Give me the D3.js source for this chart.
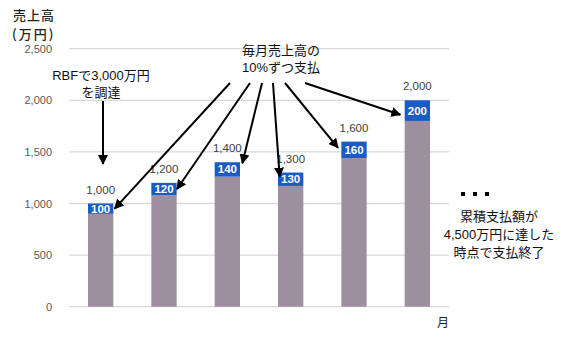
<!DOCTYPE html>
<html>
<head>
<meta charset="utf-8">
<script src="https://cdn.jsdelivr.net/npm/d3@7"></script>
<style>
  body { margin: 0; background: #fff; }
  text { font-family: "Liberation Sans", Arial, "Noto Sans CJK JP", sans-serif; }
  .jp { font-family: "Noto Sans CJK JP", sans-serif; }
</style>
</head>
<body>
<svg id="draw" width="564" height="352"></svg>
<script>
// chart data
let months = ["1", "2", "3", "4", "5", "6"];
let sales = [1000, 1200, 1400, 1300, 1600, 2000];
let payments = [100, 120, 140, 130, 160, 200];
let yTicks = [0, 500, 1000, 1500, 2000, 2500];

// arrow tips, given as offset from bar centre (px) and value on y scale
let arrowTips = [
    { dx: 14, v: 950 },
    { dx: 13, v: 1140 },
    { dx: 15, v: 1390 },
    { dx: -11, v: 1260 },
    { dx: -16, v: 1540 },
    { dx: -17, v: 1860 }
];
let arrowStartX = [230, 250, 262, 273, 285, 305];

let svg = d3.select("#draw");

let x = d3.scaleBand().domain(months).range([69, 449]).paddingInner(0.6).paddingOuter(0.3);
let y = d3.scaleLinear().domain([0, 2500]).range([306.7, 48.7]);

// grid
svg.append("g")
    .selectAll("line")
    .data(yTicks)
    .enter()
    .append("line")
    .attr("x1", 69).attr("x2", 449)
    .attr("y1", d => y(d)).attr("y2", d => y(d))
    .attr("stroke", "#d9d9d9")
    .attr("stroke-width", 1.3);

// y axis labels
svg.append("g")
    .attr("transform", "translate(55,0)")
    .call(d3.axisLeft(y).tickValues(yTicks).tickSize(0).tickFormat(d3.format(",")))
    .call(g => g.select(".domain").remove())
    .selectAll("text")
    .attr("font-size", 11)
    .attr("fill", "#595959")
    .attr("font-family", "Liberation Sans, Arial, sans-serif");

// bars: base part and payment part
svg.append("g").selectAll("rect")
    .data(months)
    .enter()
    .append("rect")
    .attr("x", d => x(d))
    .attr("width", x.bandwidth())
    .attr("y", (d, i) => y(sales[i] - payments[i]))
    .attr("height", (d, i) => y(0) - y(sales[i] - payments[i]))
    .attr("fill", "#9d8fa0");

svg.append("g").selectAll("rect")
    .data(months)
    .enter()
    .append("rect")
    .attr("x", d => x(d))
    .attr("width", x.bandwidth())
    .attr("y", (d, i) => y(sales[i]))
    .attr("height", (d, i) => y(sales[i] - payments[i]) - y(sales[i]))
    .attr("fill", "#1a5bc6");

svg.append("g").selectAll("text")
    .data(months)
    .enter()
    .append("text")
    .attr("x", d => x(d) + x.bandwidth() / 2)
    .attr("y", (d, i) => (y(sales[i]) + y(sales[i] - payments[i])) / 2 + 4)
    .attr("text-anchor", "middle")
    .attr("font-size", 11.5)
    .attr("font-weight", "bold")
    .attr("fill", "#fff")
    .text((d, i) => payments[i]);

// total labels
svg.append("g").selectAll("text")
    .data(months)
    .enter()
    .append("text")
    .attr("x", d => x(d) + x.bandwidth() / 2)
    .attr("y", (d, i) => y(sales[i]) - 10)
    .attr("text-anchor", "middle")
    .attr("font-size", 11.5)
    .attr("fill", "#404040")
    .text((d, i) => d3.format(",")(sales[i]));

// titles
svg.append("text").attr("class", "jp").attr("x", 13).attr("y", 20)
    .attr("font-size", 13).attr("font-weight", 500).attr("letter-spacing", 1).attr("fill", "#222").text("売上高");
svg.append("text").attr("class", "jp").attr("x", 12).attr("y", 39)
    .attr("font-size", 13).attr("font-weight", 500).attr("letter-spacing", 2).attr("fill", "#222").text("(万円)");
svg.append("text").attr("class", "jp").attr("x", 437).attr("y", 327)
    .attr("font-size", 12).attr("fill", "#222").text("月");

// arrow marker
svg.append("defs").append("marker")
    .attr("id", "arr")
    .attr("viewBox", "0 0 10 10")
    .attr("refX", 9).attr("refY", 5)
    .attr("markerWidth", 5).attr("markerHeight", 5)
    .attr("orient", "auto")
    .append("path")
    .attr("d", "M0,0 L10,5 L0,10 z")
    .attr("fill", "#000");

// RBF annotation
let ann = svg.append("g").attr("class", "jp").attr("font-size", 13).attr("fill", "#111").attr("text-anchor", "middle");
ann.append("text").attr("x", 101).attr("y", 80).text("RBFで3,000万円");
ann.append("text").attr("x", 101).attr("y", 97).text("を調達");
svg.append("line")
    .attr("x1", 103).attr("x2", 103)
    .attr("y1", 101).attr("y2", 164)
    .attr("stroke", "#000").attr("stroke-width", 2)
    .attr("marker-end", "url(#arr)");

ann.append("text").attr("x", 281).attr("y", 55).text("毎月売上高の");
ann.append("text").attr("x", 281).attr("y", 72).text("10%ずつ支払");

svg.append("g").selectAll("line")
    .data(arrowTips)
    .enter()
    .append("line")
    .attr("x1", (d, i) => arrowStartX[i])
    .attr("y1", 83)
    .attr("x2", (d, i) => x(months[i]) + x.bandwidth() / 2 + d.dx)
    .attr("y2", d => y(d.v))
    .attr("stroke", "#000").attr("stroke-width", 2)
    .attr("marker-end", "url(#arr)");

// ending note: three square dots
svg.append("g").selectAll("rect")
    .data([0, 1, 2])
    .enter()
    .append("rect")
    .attr("x", d => 461 + d * 12)
    .attr("y", 192)
    .attr("width", 4).attr("height", 4)
    .attr("fill", "#000");
ann.append("text").attr("x", 499).attr("y", 221).text("累積支払額が");
ann.append("text").attr("x", 499).attr("y", 239).text("4,500万円に達した");
ann.append("text").attr("x", 499).attr("y", 257).text("時点で支払終了");
</script>
</body>
</html>
